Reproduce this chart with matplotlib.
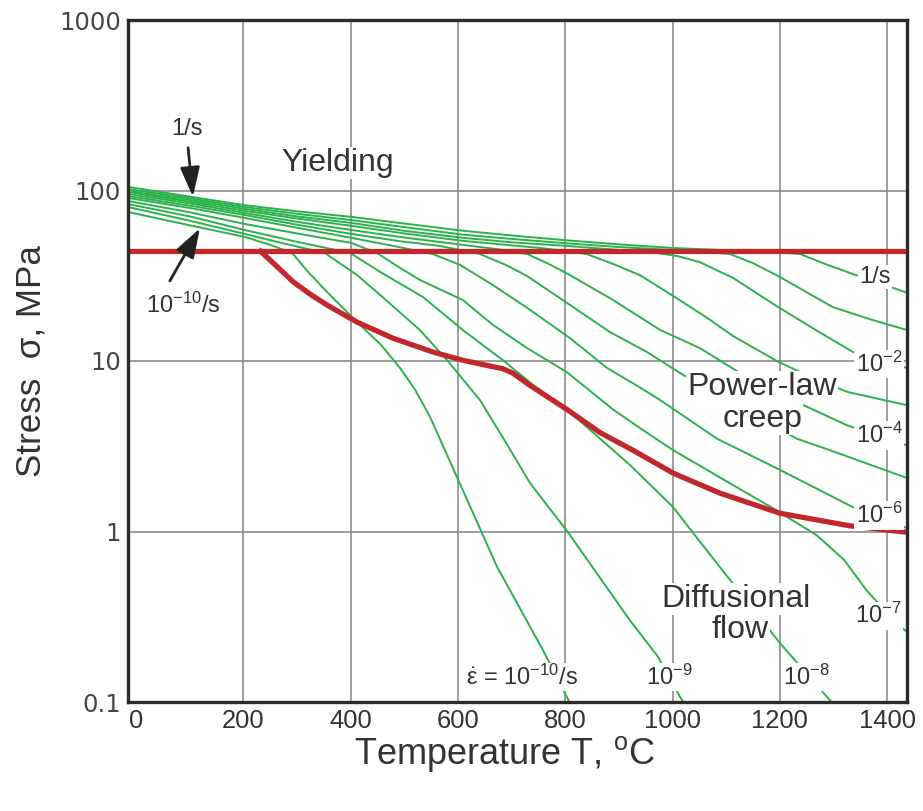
import matplotlib
matplotlib.use('Agg')
import matplotlib.pyplot as plt
from matplotlib import font_manager as fm
from matplotlib.ticker import NullLocator

# ---------------- data ----------------
x_ticks = [0, 200, 400, 600, 800, 1000, 1200, 1400]
y_ticks = [0.1, 1, 10, 100, 1000]
y_tick_labels = ['0.1', '1', '10', '100', '1000']

# strain-rate contours, 1/s ... 1e-10/s  (T in degC, stress in MPa)
T_e0 = [-15, 100, 203, 300, 402, 500, 611, 700, 803, 900, 1001, 1090, 1163, 1238, 1290, 1336, 1418, 1437]
S_e0 = [105, 92, 82, 75.5, 70, 64, 58, 54.5, 51, 48.3, 46, 44.8, 44.3, 42.4, 36.5, 32.4, 26.4, 25.1]
T_e1 = [-15, 100, 203, 300, 402, 500, 611, 700, 803, 900, 1001, 1060, 1107, 1150, 1197, 1250, 1299, 1370, 1437]
S_e1 = [102, 90, 80, 73, 67, 61, 55, 52, 49, 46.6, 44.8, 43.9, 42.4, 37.5, 31.5, 25.3, 20.7, 17.5, 15.2]
T_e2 = [-15, 100, 203, 300, 402, 500, 611, 700, 803, 900, 971, 1010, 1051, 1113, 1197, 1270, 1336, 1390, 1437]
S_e2 = [99.3, 88, 78, 70.5, 64.5, 58, 52.7, 49.7, 47.3, 44.8, 43, 41.2, 38, 30.7, 20.7, 15, 11.3, 10, 9.1]
T_e3 = [-15, 100, 203, 300, 402, 500, 611, 690, 753, 800, 840, 890, 939, 1001, 1060, 1113, 1197, 1260, 1325, 1437]
S_e3 = [98, 86, 76, 68.5, 62, 56, 50.6, 48, 46, 44.3, 42.4, 37, 31.9, 24.1, 18.3, 14, 9.9, 8, 6.6, 5.5]
T_e4 = [-15, 100, 203, 300, 402, 500, 611, 680, 729, 770, 809, 889, 977, 1051, 1163, 1250, 1325, 1437]
S_e4 = [95.4, 84, 73.8, 65.5, 58.6, 53, 47.9, 45, 42.4, 37, 31.9, 22.8, 15.2, 11.9, 7.2, 5.4, 4.2, 3.2]
T_e5 = [-15, 100, 203, 300, 402, 490, 566, 641, 690, 729, 809, 883, 952, 1014, 1120, 1232, 1293, 1437]
S_e5 = [92.8, 81.5, 71.8, 63, 55.6, 50.5, 47.3, 42.4, 36.5, 31.5, 21.3, 14.8, 11.3, 8.5, 5.4, 3.5, 3.0, 2.06]
T_e6 = [-15, 100, 203, 300, 402, 480, 553, 604, 665, 729, 809, 878, 939, 977, 1083, 1200, 1336, 1418, 1437]
S_e6 = [90.4, 79, 69, 60.5, 52.7, 47.3, 42.4, 36.6, 27.9, 20.5, 13.6, 9.1, 7.0, 5.9, 3.5, 2.3, 1.39, 1.09, 1.05]
T_e7 = [-15, 100, 203, 300, 402, 449, 490, 529, 609, 665, 729, 803, 889, 939, 1001, 1113, 1187, 1269, 1320, 1362, 1418, 1437]
S_e7 = [86.8, 74.5, 63.6, 56, 49.2, 43, 35.5, 29.9, 22.8, 16.3, 11.9, 8.6, 5.2, 4.05, 3.0, 1.87, 1.37, 0.95, 0.68, 0.45, 0.29, 0.257]
T_e8 = [-15, 100, 203, 300, 399, 455, 535, 609, 684, 734, 809, 921, 1001, 1050, 1103, 1200, 1288, 1303]
S_e8 = [83.3, 70.5, 58.6, 50, 43, 33.3, 23.7, 15.2, 10.1, 7.5, 5.0, 2.45, 1.39, 0.88, 0.54, 0.222, 0.107, 0.095]
T_e9 = [-15, 100, 203, 280, 352, 412, 455, 529, 580, 641, 690, 734, 805, 921, 973, 1014, 1025]
S_e9 = [80, 66.5, 55.6, 48.5, 43, 31.9, 24.4, 15.2, 10.1, 5.9, 3.3, 1.93, 0.99, 0.30, 0.184, 0.107, 0.095]
T_e10 = [-15, 100, 203, 250, 291, 320, 356, 412, 457, 492, 520, 548, 609, 673, 759, 803, 811]
S_e10 = [74.8, 62.5, 53.4, 48, 43, 33.5, 25.4, 16.9, 12.4, 9.1, 6.8, 4.7, 1.75, 0.62, 0.20, 0.107, 0.095]

# mechanism boundaries
T_yield = [-15, 1437]
S_yield = [44, 44]
T_diff = [232, 260, 293, 325, 356, 412, 479, 553, 609, 684, 702, 734, 803, 865, 926, 1001, 1088, 1200, 1330, 1437]
S_diff = [44, 36.5, 29.1, 24.6, 21.3, 16.9, 13.6, 11.3, 10.1, 9.0, 8.5, 7.2, 5.2, 3.8, 3.0, 2.2, 1.68, 1.28, 1.08, 0.99]

# ---------------- fonts ----------------
names = {f.name for f in fm.fontManager.ttflist}
if 'Liberation Sans Narrow' in names:
    NARROW, nscale = 'Liberation Sans Narrow', 1.0
else:
    NARROW, nscale = 'Liberation Sans', 0.84
REG = 'Liberation Sans'
plt.rcParams['font.family'] = [REG, 'DejaVu Sans']
plt.rcParams['mathtext.fontset'] = 'custom'
plt.rcParams['mathtext.rm'] = REG
plt.rcParams['mathtext.it'] = REG + ':italic'
plt.rcParams['mathtext.bf'] = REG + ':bold'

TXT = '#333333'
GREEN = '#2bb24c'
RED = '#c1272d'
GRID = '#8c8c8c'

fig = plt.figure(figsize=(9.23, 8.11), dpi=100)
ax = fig.add_axes([128 / 923, (811 - 702) / 811, 779 / 923, 682 / 811])
ax.set_yscale('log')
ax.set_xlim(-15, 1437)
ax.set_ylim(0.1, 1000)

# grid
for t in x_ticks[1:]:
    ax.axvline(t, color=GRID, lw=1.2, zorder=1)
for s in y_ticks[1:-1]:
    ax.axhline(s, color=GRID, lw=1.2, zorder=1)

# strain-rate contours
Ts = [T_e0, T_e1, T_e2, T_e3, T_e4, T_e5, T_e6, T_e7, T_e8, T_e9, T_e10]
Ss = [S_e0, S_e1, S_e2, S_e3, S_e4, S_e5, S_e6, S_e7, S_e8, S_e9, S_e10]
for T, S in zip(Ts, Ss):
    ax.plot(T, S, color=GREEN, lw=1.4, zorder=2, solid_joinstyle='round')

# boundaries
ax.plot(T_yield, S_yield, color=RED, lw=3.8, zorder=3, solid_capstyle='butt')
ax.plot(T_diff, S_diff, color=RED, lw=3.8, zorder=3, solid_joinstyle='round')

# axes styling
ax.set_xticks(x_ticks)
ax.set_xticklabels([str(v) for v in x_ticks], family=NARROW, fontsize=22 * nscale, color=TXT)
ax.set_yticks(y_ticks)
ax.set_yticklabels(y_tick_labels, family='DejaVu Sans', fontsize=17.5, color='#444444')
ax.yaxis.set_minor_locator(NullLocator())
ax.tick_params(axis='both', length=0)
ax.tick_params(axis='x', pad=5)
ax.tick_params(axis='y', pad=5)
for sp in ax.spines.values():
    sp.set_linewidth(2.4)
    sp.set_color('#2b2b2b')
    sp.set_zorder(10)

ax.set_xlabel('Temperature T, $^{\\mathrm{o}}$C', family=NARROW, fontsize=31 * nscale, color=TXT)
ax.xaxis.set_label_coords((505 - 128) / 779, -0.047)
ax.set_ylabel('Stress  \u03c3, MPa', family=NARROW, fontsize=30 * nscale, color=TXT)
ax.yaxis.set_label_coords((48 - 128) / 779, 0.5)

box = dict(facecolor='white', edgecolor='none', pad=1.0)
lab = dict(color=TXT, fontsize=17, zorder=6, bbox=box)
big = dict(color=TXT, fontsize=23, zorder=6, bbox=box, ha='center', va='baseline')

# region names
ax.text(376, 130, 'Yielding', **big)
ax.text(1167, 6.32, 'Power-law', **big)
ax.text(1167, 4.10, 'creep', **big)
ax.text(1118, 0.361, 'Diffusional', **big)
ax.text(1126, 0.237, 'flow', **big)

# contour labels (right edge)
ax.text(1377, 28.7, '1/s', ha='center', va='baseline', **lab)
ax.text(1385, 8.62, '10$^{-2}$', ha='center', va='baseline', **lab)
ax.text(1385, 3.30, '10$^{-4}$', ha='center', va='baseline', **lab)
ax.text(1385, 1.12, '10$^{-6}$', ha='center', va='baseline', **lab)
ax.text(1383, 0.29, '10$^{-7}$', ha='center', va='baseline', **lab)
# contour labels (bottom)
ax.text(1249, 0.126, '10$^{-8}$', ha='center', va='baseline', **lab)
ax.text(994, 0.126, '10$^{-9}$', ha='center', va='baseline', **lab)
ax.text(720, 0.126, '$\\dot{\\mathrm{\\varepsilon}}$ = 10$^{-10}$/s', ha='center', va='baseline', **lab)

# yield-fan labels with arrows
ax.text(95, 211, '1/s', ha='center', va='baseline', color=TXT, fontsize=17, zorder=6)
ax.text(89, 19.1, '10$^{-10}$/s', ha='center', va='baseline', color=TXT, fontsize=17, zorder=6)
arrow = dict(arrowstyle='-|>,head_length=0.9,head_width=0.3', color='#222222', lw=2,
             mutation_scale=20, shrinkA=0, shrinkB=0)
ax.annotate('', xy=(106, 92), xytext=(97, 178), arrowprops=arrow, zorder=7)
ax.annotate('', xy=(119, 60), xytext=(63, 29.5), arrowprops=arrow, zorder=7)

fig.savefig('out.png', dpi=100)
